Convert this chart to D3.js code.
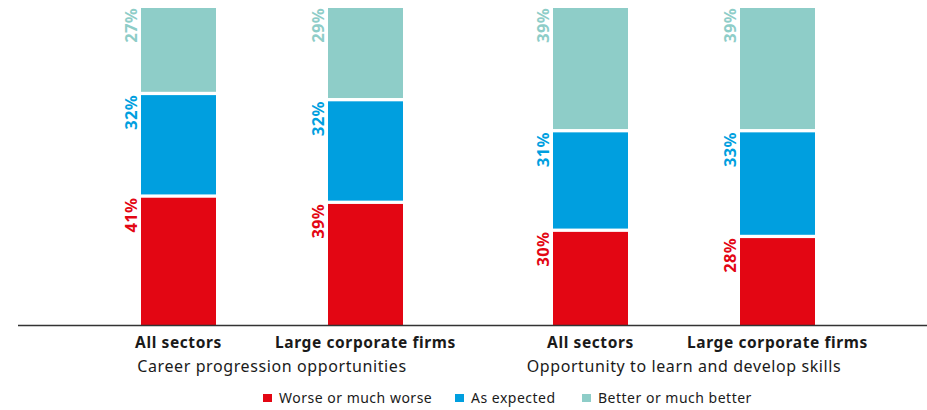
<!DOCTYPE html>
<html><head><meta charset="utf-8">
<script src="https://cdn.jsdelivr.net/npm/d3@7"></script>
<style>body{margin:0;background:#fff}svg{display:block}text{font-family:"Noto Sans",Lato,sans-serif}</style>
</head><body><svg id="c" width="927" height="410"></svg>
<script>
const groups = ["Career progression opportunities","Opportunity to learn and develop skills"];
const categories = ["All sectors","Large corporate firms","All sectors","Large corporate firms"];
const seriesNames = ["Worse or much worse","As expected","Better or much better"];
const colors = ["#E30613","#009FDF","#8ECDC8"];
const worse = [41,39,30,28];
const expected = [32,32,31,33];
const better = [27,29,39,39];
const values = [worse, expected, better];

const svg = d3.select("#c");
const bars = categories.map((c,i)=>({i,c}));
const centers = [178.5,365.5,590.5,777.5];
const cx = d3.scaleOrdinal().domain([0,1,2,3]).range(centers);
const bw = 75;
const gap = 3.3;
const y = d3.scaleLinear().domain([0,100]).range([325,8+2*gap]);

bars.forEach(b=>{
  let cum=0;
  values.forEach((arr,s)=>{
    const v=arr[b.i], start=cum, end=cum+v; cum=end;
    const top = y(end) - s*gap;
    const bot = y(start) - s*gap;
    svg.append("rect").attr("x",cx(b.i)-bw/2).attr("y",top).attr("width",bw).attr("height",bot-top).attr("fill",colors[s]);
    svg.append("text").attr("transform",`translate(${cx(b.i)-bw/2-4},${top}) rotate(-90)`)
      .attr("text-anchor","end").attr("font-weight",700).attr("font-size",16.5).attr("letter-spacing",0.3).attr("fill",colors[s])
      .text(v+"%");
  });
});

svg.append("line").attr("x1",18).attr("x2",927).attr("y1",325.5).attr("y2",325.5).attr("stroke","#333").attr("stroke-width",1.5);

bars.forEach(b=>{
  svg.append("text").attr("x",cx(b.i)).attr("y",347.5).attr("text-anchor","middle").attr("font-weight",700).attr("font-size",15.5).attr("letter-spacing",0.6).attr("fill","#1a1a1a").text(b.c);
});
groups.forEach((g,k)=>{
  svg.append("text").attr("x",(cx(k*2)+cx(k*2+1))/2).attr("y",372).attr("text-anchor","middle").attr("font-size",16).attr("letter-spacing",0.6).attr("fill","#1a1a1a").text(g);
});
const legX=[263,455,582];
seriesNames.forEach((n,s)=>{
  svg.append("rect").attr("x",legX[s]).attr("y",394).attr("width",9).attr("height",8).attr("fill",colors[s]);
  svg.append("text").attr("x",legX[s]+16).attr("y",402.5).attr("font-size",14).attr("letter-spacing",0.5).attr("fill","#1a1a1a").text(n);
});
</script></body></html>
